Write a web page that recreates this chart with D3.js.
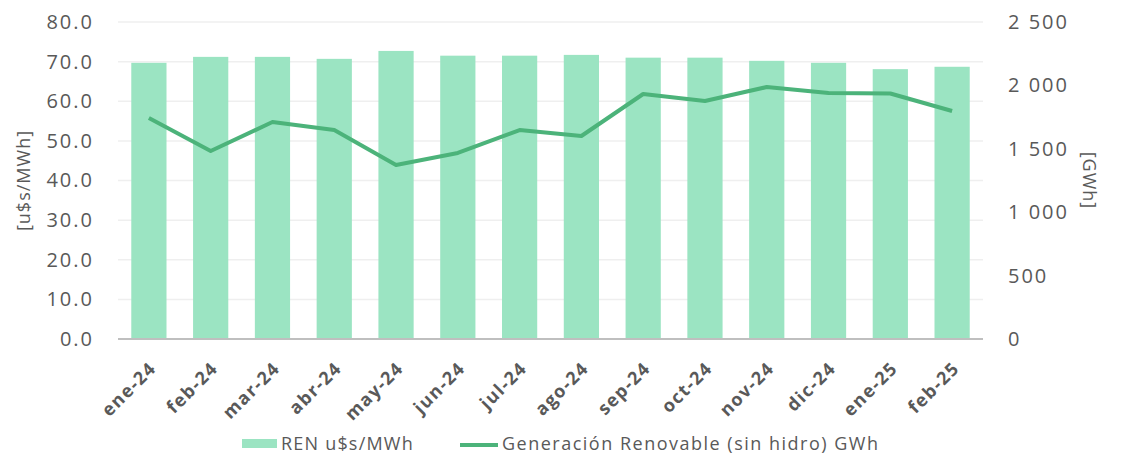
<!DOCTYPE html>
<html>
<head>
<meta charset="utf-8">
<script src="https://cdn.jsdelivr.net/npm/d3@7"></script>
<style>
  body { margin: 0; background: #fff; }
  text { font-family: "Open Sans", Lato, sans-serif; fill: #595959; }
</style>
</head>
<body>
<div id="chart"></div>
<script>
const months = ["ene-24","feb-24","mar-24","abr-24","may-24","jun-24","jul-24","ago-24","sep-24","oct-24","nov-24","dic-24","ene-25","feb-25"];
const renPrice = [69.7, 71.2, 71.2, 70.7, 72.7, 71.5, 71.5, 71.7, 71.0, 71.0, 70.2, 69.7, 68.1, 68.7];
const renGen = [1743, 1483, 1711, 1648, 1372, 1467, 1648, 1601, 1932, 1877, 1987, 1940, 1936, 1798];
const leftTicks = [0, 10, 20, 30, 40, 50, 60, 70, 80];
const rightTicks = [0, 500, 1000, 1500, 2000, 2500];

const W = 1128, H = 455;
const m = {top: 22, right: 145, bottom: 116, left: 118};
const w = W - m.left - m.right, h = H - m.top - m.bottom;

const svg = d3.select("#chart").append("svg").attr("width", W).attr("height", H);
const g = svg.append("g").attr("transform", "translate(" + m.left + "," + m.top + ")");

const x = d3.scaleBand().domain(months).range([0, w]).paddingInner(0.43).paddingOuter(0.215);
const y = d3.scaleLinear().domain([0, 80]).range([h, 0]);
const y2 = d3.scaleLinear().domain([0, 2500]).range([h, 0]);

// gridlines
g.selectAll(".grid").data(leftTicks.slice(1)).enter().append("line")
  .attr("x1", 0).attr("x2", w)
  .attr("y1", d => y(d)).attr("y2", d => y(d))
  .attr("stroke", "#efefef").attr("stroke-width", 1.5);

// bars
g.selectAll(".bar").data(renPrice).enter().append("rect")
  .attr("x", (d, i) => x(months[i]))
  .attr("y", d => y(d))
  .attr("width", x.bandwidth())
  .attr("height", d => h - y(d))
  .attr("fill", "#9be4c2");

// baseline
g.append("line").attr("x1", 0).attr("x2", w).attr("y1", h).attr("y2", h)
  .attr("stroke", "#bfbfbf").attr("stroke-width", 2);

// line
const line = d3.line().x((d, i) => x(months[i]) + x.bandwidth() / 2).y(d => y2(d));
g.append("path").datum(renGen).attr("d", line)
  .attr("fill", "none").attr("stroke", "#4cb37a").attr("stroke-width", 4).attr("stroke-linejoin", "round");

// left axis
const yAxis = d3.axisLeft(y).tickValues(leftTicks).tickFormat(d3.format(".1f")).tickSize(0).tickPadding(24);
g.append("g").call(yAxis).call(s => s.select(".domain").remove())
  .selectAll("text").style("font-size", "20px").style("letter-spacing", "2px").attr("fill", "#595959");

// right axis
const y2Axis = d3.axisRight(y2).tickValues(rightTicks)
  .tickFormat(d => d3.format(",")(d).replace(",", " ")).tickSize(0).tickPadding(25);
g.append("g").attr("transform", "translate(" + w + ",0)").call(y2Axis)
  .call(s => s.select(".domain").remove())
  .selectAll("text").style("font-size", "20px").style("letter-spacing", "2px").attr("fill", "#595959");

// x axis
const xAxis = d3.axisBottom(x).tickSize(0).tickPadding(0);
g.append("g").attr("transform", "translate(0," + h + ")").call(xAxis)
  .call(s => s.select(".domain").remove())
  .selectAll("text")
  .style("font-size", "18px").style("font-weight", "bold").style("letter-spacing", "1.4px")
  .attr("fill", "#595959")
  .attr("text-anchor", "end")
  .attr("dy", "0.35em")
  .attr("transform", "translate(4,26) rotate(-45)");

// axis titles
svg.append("text").attr("transform", "translate(30," + (m.top + h / 2) + ") rotate(-90)")
  .attr("text-anchor", "middle").style("font-size", "18px").style("letter-spacing", "1px").text("[u$s/MWh]");
svg.append("text").attr("transform", "translate(1083," + (m.top + h / 2) + ") rotate(90)")
  .attr("text-anchor", "middle").style("font-size", "18px").style("letter-spacing", "1px").text("[GWh]");

// legend
const lg = svg.append("g").attr("transform", "translate(242,444)");
lg.append("rect").attr("x", 0).attr("y", -5).attr("width", 35).attr("height", 9).attr("fill", "#9be4c2");
lg.append("text").attr("x", 39).attr("y", 0).attr("dy", "0.35em").style("font-size", "18px")
  .style("letter-spacing", "1.2px").text("REN u$s/MWh");
lg.append("line").attr("x1", 218).attr("x2", 256).attr("y1", 1).attr("y2", 1)
  .attr("stroke", "#4cb37a").attr("stroke-width", 4);
lg.append("text").attr("x", 260).attr("y", 0).attr("dy", "0.35em").style("font-size", "18px")
  .style("letter-spacing", "1.5px").text("Generación Renovable (sin hidro) GWh");
</script>
</body>
</html>
